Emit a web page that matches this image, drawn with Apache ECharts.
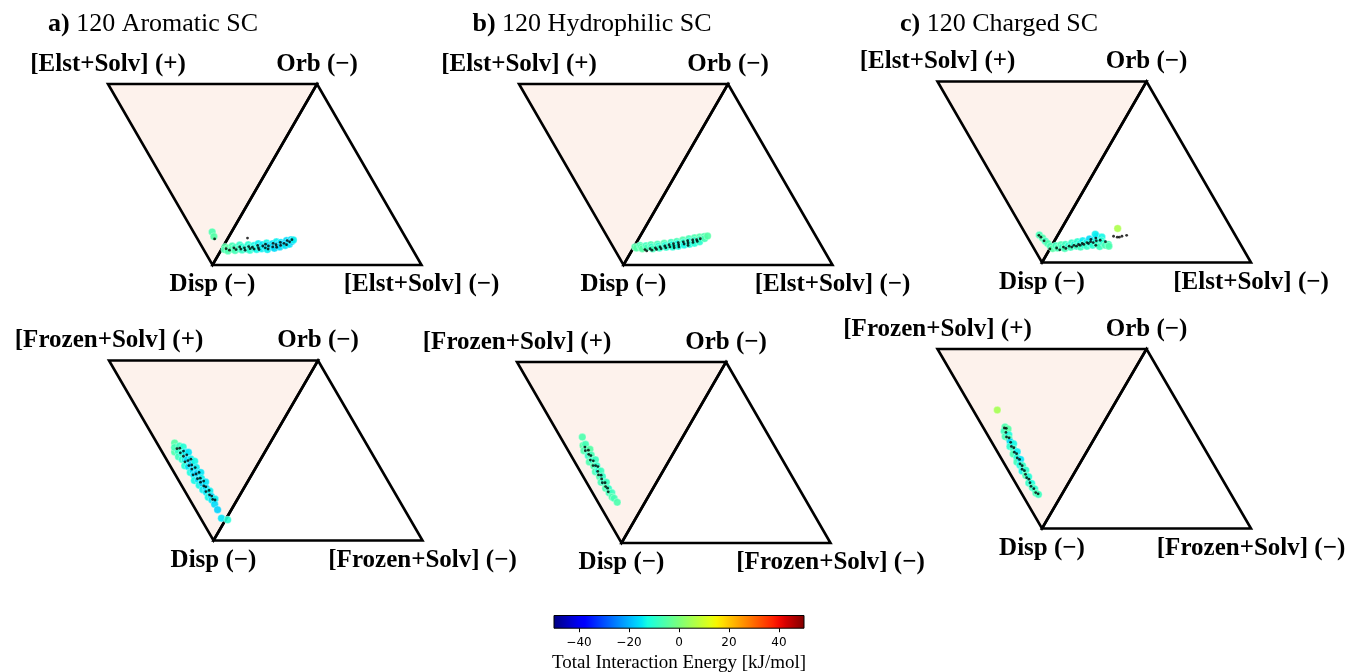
<!DOCTYPE html>
<html>
<head>
<meta charset="utf-8">
<script src="https://cdn.jsdelivr.net/npm/echarts@6/dist/echarts.min.js"></script>
<style>
  html, body { margin: 0; padding: 0; background: #ffffff; }
  #chart { width: 1349px; height: 672px; }
</style>
</head>
<body>
<div id="chart"></div>
<script>
// ---- labels ----
const panelTitles = [
  ['a)', ' 120 Aromatic SC'],
  ['b)', ' 120 Hydrophilic SC'],
  ['c)', ' 120 Charged SC']
];
// corner order: (+) top-left, Orb top-right, Disp bottom, (-) bottom-right
const elstCorners = ['[Elst+Solv] (+)', 'Orb (\u2212)', 'Disp (\u2212)', '[Elst+Solv] (\u2212)'];
const frozenCorners = ['[Frozen+Solv] (+)', 'Orb (\u2212)', 'Disp (\u2212)', '[Frozen+Solv] (\u2212)'];
const energyTicks = [-40, -20, 0, 20, 40];
const energyRange = [-50, 50];
const energyTitle = 'Total Interaction Energy [kJ/mol]';

// ---- data: [orb fraction, signed third-term fraction (+ repulsive / - attractive), total energy kJ/mol] ----
const aromaticElst = [
  [0.09,0.093,-6],[0.085,0.072,-5],
  [0.1,-0.01,-5],[0.085,-0.015,-6],[0.092,-0.028,-4],[0.078,-0.035,-6],[0.105,-0.042,-7],[0.088,-0.05,-6],
  [0.097,-0.06,-8],[0.08,-0.068,-7],[0.11,-0.075,-9],[0.09,-0.082,-8],[0.1,-0.092,-10],[0.083,-0.1,-9],
  [0.095,-0.108,-11],[0.112,-0.115,-10],[0.088,-0.122,-12],[0.1,-0.13,-11],[0.082,-0.138,-10],[0.108,-0.145,-13],
  [0.093,-0.152,-12],[0.118,-0.16,-14],[0.086,-0.168,-13],[0.1,-0.175,-12],[0.112,-0.182,-15],[0.09,-0.19,-14],
  [0.122,-0.198,-13],[0.098,-0.205,-15],[0.108,-0.212,-16],[0.085,-0.22,-14],[0.118,-0.228,-15],[0.1,-0.235,-16],
  [0.128,-0.242,-14],[0.092,-0.25,-16],[0.112,-0.257,-17],[0.125,-0.265,-15],[0.1,-0.272,-16],[0.118,-0.28,-17],
  [0.135,-0.287,-16],[0.108,-0.294,-15],[0.125,-0.3,-17],[0.14,-0.306,-16],[0.115,-0.31,-15],[0.13,-0.314,-17],
  [0.138,-0.318,-14]
];
const aromaticElstDots = [
  [0.082,0.062],[0.149,-0.093],
  [0.09,-0.02],[0.082,-0.04],[0.095,-0.055],[0.085,-0.07],[0.1,-0.08],[0.088,-0.092],[0.095,-0.105],
  [0.082,-0.115],[0.102,-0.122],[0.09,-0.135],[0.098,-0.142],[0.088,-0.155],[0.108,-0.162],[0.095,-0.172],
  [0.085,-0.18],[0.105,-0.188],[0.115,-0.196],[0.095,-0.205],[0.105,-0.215],[0.088,-0.222],[0.12,-0.23],
  [0.1,-0.238],[0.112,-0.248],[0.098,-0.258],[0.125,-0.262],[0.108,-0.272],[0.12,-0.282],[0.135,-0.29],
  [0.112,-0.298],[0.128,-0.305],[0.14,-0.31]
];
const hydrophilicElst = [
  [0.1,-0.005,-6],[0.094,-0.015,-5],[0.108,-0.025,-7],[0.098,-0.035,-6],[0.09,-0.045,-5],[0.106,-0.055,-8],
  [0.096,-0.065,-7],[0.112,-0.075,-6],[0.1,-0.085,-9],[0.09,-0.095,-8],[0.115,-0.105,-7],[0.104,-0.115,-10],
  [0.094,-0.125,-9],[0.12,-0.135,-6],[0.108,-0.145,-11],[0.098,-0.155,-10],[0.125,-0.165,-8],[0.112,-0.175,-12],
  [0.1,-0.185,-11],[0.13,-0.19,-7],[0.118,-0.2,-13],[0.104,-0.21,-12],[0.138,-0.215,-6],[0.124,-0.225,-10],
  [0.11,-0.235,-13],[0.145,-0.24,-7],[0.13,-0.25,-11],[0.115,-0.258,-12],[0.15,-0.265,-6],[0.136,-0.272,-9],
  [0.12,-0.28,-11],[0.155,-0.287,-5],[0.142,-0.295,-8],[0.128,-0.3,-10],[0.158,-0.308,-6],[0.146,-0.315,-7],
  [0.16,-0.322,-5]
];
const hydrophilicElstDots = [
  [0.085,-0.06],[0.078,-0.072],[0.09,-0.082],[0.082,-0.095],[0.095,-0.105],[0.086,-0.115],[0.1,-0.125],
  [0.09,-0.135],[0.105,-0.145],[0.095,-0.155],[0.112,-0.162],[0.1,-0.172],[0.118,-0.18],[0.106,-0.188],
  [0.095,-0.195],[0.124,-0.2],[0.112,-0.208],[0.1,-0.215],[0.128,-0.222],[0.116,-0.232],[0.134,-0.24],
  [0.122,-0.248],[0.108,-0.255],[0.138,-0.262],[0.125,-0.27],[0.14,-0.28],[0.13,-0.288],[0.145,-0.295]
];
const chargedElst = [
  [0.063,0.089,-7],[0.07,0.065,-6],[0.075,0.043,-8],[0.08,0.025,-6],
  [0.085,0.005,-7],[0.078,-0.012,-5],[0.092,-0.02,-8],[0.08,-0.035,-7],[0.098,-0.042,-6],[0.085,-0.055,-9],
  [0.1,-0.062,-8],[0.078,-0.07,-7],[0.092,-0.08,-10],[0.108,-0.088,-9],[0.084,-0.095,-8],[0.1,-0.105,-11],
  [0.115,-0.112,-10],[0.09,-0.12,-9],[0.105,-0.13,-12],[0.12,-0.135,-14],[0.085,-0.142,-8],[0.098,-0.15,-11],
  [0.112,-0.158,-13],[0.13,-0.162,-16],[0.09,-0.17,-9],[0.105,-0.178,-12],[0.125,-0.185,-15],[0.145,-0.19,-17],
  [0.095,-0.195,-10],[0.115,-0.2,-12],[0.156,-0.177,-14],[0.141,-0.216,-13],[0.1,-0.215,-9],[0.12,-0.225,-11],
  [0.088,-0.232,-8],[0.108,-0.24,-10],[0.095,-0.255,-7],[0.1,-0.268,-8],[0.09,-0.275,-6],[0.188,-0.268,6]
];
const chargedElstDots = [
  [0.06,0.09],[0.065,0.075],[0.07,0.05],
  [0.075,0.0],[0.08,-0.03],[0.07,-0.05],[0.085,-0.06],[0.078,-0.075],[0.09,-0.085],[0.085,-0.1],
  [0.095,-0.105],[0.09,-0.12],[0.1,-0.125],[0.095,-0.135],[0.105,-0.14],[0.1,-0.15],[0.11,-0.16],
  [0.105,-0.17],[0.115,-0.175],[0.11,-0.19],[0.12,-0.2],[0.128,-0.17],[0.135,-0.19],[0.095,-0.21],
  [0.123,-0.217],[0.115,-0.246],
  [0.145,-0.27],[0.14,-0.29],[0.145,-0.31],[0.15,-0.33],[0.14,-0.3]
];
const aromaticFrozen = [
  [0.085,0.457,-5],[0.06,0.432,-6],[0.072,0.445,-7],[0.1,0.425,-8],[0.078,0.415,-9],[0.115,0.405,-11],
  [0.065,0.4,-8],[0.092,0.392,-12],[0.11,0.38,-14],[0.075,0.375,-10],[0.125,0.365,-15],[0.088,0.36,-13],
  [0.1,0.35,-16],[0.07,0.345,-11],[0.118,0.335,-14],[0.085,0.325,-15],[0.105,0.318,-17],[0.13,0.31,-13],
  [0.078,0.3,-12],[0.095,0.292,-16],[0.12,0.285,-14],[0.088,0.275,-15],[0.108,0.265,-17],[0.075,0.258,-13],
  [0.128,0.25,-15],[0.095,0.24,-16],[0.115,0.23,-14],[0.085,0.222,-13],[0.105,0.212,-17],[0.125,0.2,-15],
  [0.09,0.192,-14],[0.11,0.18,-16],[0.1,0.168,-15],[0.12,0.155,-14],[0.095,0.145,-13],[0.112,0.132,-16],
  [0.105,0.12,-15],[0.122,0.108,-14],[0.106,0.095,-16],[0.105,0.066,-17],[0.1,0.024,-15],[0.115,-0.01,-11]
];
const aromaticFrozenDots = [
  [0.08,0.43],[0.095,0.418],[0.085,0.402],[0.105,0.392],[0.09,0.378],[0.11,0.366],[0.082,0.355],
  [0.1,0.344],[0.118,0.334],[0.09,0.326],[0.106,0.314],[0.095,0.302],[0.115,0.29],[0.085,0.28],
  [0.102,0.268],[0.12,0.258],[0.095,0.248],[0.11,0.236],[0.1,0.224],[0.118,0.212],[0.105,0.198],
  [0.112,0.186],[0.1,0.172],[0.118,0.16],[0.108,0.146],[0.115,0.132],[0.11,0.118],[0.12,0.105]
];
const hydrophilicFrozen = [
  [0.105,0.48,-6],[0.085,0.453,-5],[0.1,0.445,-7],[0.075,0.435,-6],[0.092,0.42,-8],[0.108,0.41,-5],
  [0.082,0.4,-9],[0.098,0.388,-7],[0.07,0.378,-6],[0.09,0.365,-10],[0.105,0.355,-8],[0.08,0.345,-6],
  [0.095,0.332,-9],[0.072,0.322,-7],[0.088,0.31,-11],[0.1,0.298,-8],[0.078,0.288,-6],[0.092,0.275,-9],
  [0.07,0.265,-7],[0.085,0.252,-10],[0.095,0.24,-8],[0.075,0.227,-6],[0.088,0.212,-9],[0.08,0.198,-7],
  [0.092,0.185,-8],[0.082,0.172,-6],[0.088,0.159,-7],[0.092,0.133,-6]
];
const hydrophilicFrozenDots = [
  [0.09,0.44],[0.082,0.428],[0.098,0.415],[0.088,0.402],[0.095,0.388],[0.08,0.378],[0.092,0.362],
  [0.078,0.35],[0.09,0.338],[0.098,0.324],[0.084,0.312],[0.078,0.298],[0.09,0.285],[0.082,0.272],
  [0.075,0.258],[0.088,0.245],[0.08,0.232],[0.085,0.218],[0.078,0.205]
];
const chargedFrozen = [
  [0.116,0.544,5],[0.106,0.46,-6],[0.09,0.452,-8],[0.115,0.44,-5],[0.08,0.432,-7],[0.102,0.42,-12],
  [0.092,0.408,-6],[0.089,0.394,-16],[0.075,0.382,-10],[0.1,0.372,-13],[0.085,0.358,-9],[0.07,0.345,-7],
  [0.095,0.332,-14],[0.078,0.318,-11],[0.065,0.305,-8],[0.09,0.295,-15],[0.071,0.282,-12],[0.082,0.268,-9],
  [0.065,0.255,-13],[0.085,0.24,-10],[0.07,0.225,-7],[0.08,0.208,-11],[0.064,0.19,-9],[0.076,0.175,-12],
  [0.068,0.16,-8],[0.075,0.145,-10],[0.07,0.128,-7],[0.078,0.112,-8]
];
const chargedFrozenDots = [
  [0.1,0.46],[0.108,0.45],[0.095,0.44],[0.085,0.425],[0.095,0.41],[0.09,0.39],[0.082,0.375],[0.09,0.36],
  [0.08,0.345],[0.087,0.33],[0.078,0.315],[0.085,0.3],[0.075,0.285],[0.08,0.27],[0.07,0.26],[0.077,0.245],
  [0.072,0.23],[0.068,0.215],[0.075,0.2],[0.07,0.185],[0.065,0.17],[0.072,0.15],[0.07,0.13],[0.078,0.115]
];

// ---- layout ----
const SERIF = '"Liberation Serif", "Times New Roman", serif';
const SANS = '"DejaVu Sans", sans-serif';
const H = Math.sqrt(3) / 2;
const SIDE = 209;          // triangle side in px
const titleLefts = [48, 472.5, 900];
const panels = [
  { left: 108,   top: 84,    height: 181,   pts: aromaticElst,      dots: aromaticElstDots,      corners: elstCorners },
  { left: 519,   top: 84,    height: 181,   pts: hydrophilicElst,   dots: hydrophilicElstDots,   corners: elstCorners },
  { left: 937.5, top: 81.5,  height: 181,   pts: chargedElst,       dots: chargedElstDots,       corners: elstCorners },
  { left: 109,   top: 360.5, height: 180,   pts: aromaticFrozen,    dots: aromaticFrozenDots,    corners: frozenCorners },
  { left: 517,   top: 362,   height: 181,   pts: hydrophilicFrozen, dots: hydrophilicFrozenDots, corners: frozenCorners },
  { left: 937.5, top: 349,   height: 179.5, pts: chargedFrozen,     dots: chargedFrozenDots,     corners: frozenCorners }
];

// Disp at origin, Orb at (0.5, H), (+) term at (-0.5, H), (-) term at (1, 0)
function toXY(orb, term) {
  if (term >= 0) return [0.5 * orb - 0.5 * term, H * (orb + term)];
  return [0.5 * orb - term, H * orb];
}
const V_PLUS = toXY(0, 1), V_ORB = toXY(1, 0), V_DISP = toXY(0, 0), V_MINUS = toXY(0, -1);

// matplotlib "jet"
function lerpSeg(t, segs) {
  for (let i = 1; i < segs.length; i++) {
    if (t <= segs[i][0]) {
      const a = segs[i - 1], b = segs[i];
      return a[1] + (b[1] - a[1]) * (t - a[0]) / (b[0] - a[0]);
    }
  }
  return segs[segs.length - 1][1];
}
function jet(t) {
  const r = lerpSeg(t, [[0,0],[0.35,0],[0.66,1],[0.89,1],[1,0.5]]);
  const g = lerpSeg(t, [[0,0],[0.125,0],[0.375,1],[0.64,1],[0.91,0],[1,0]]);
  const b = lerpSeg(t, [[0,0.5],[0.11,1],[0.34,1],[0.65,0],[1,0]]);
  return 'rgb(' + Math.round(r * 255) + ',' + Math.round(g * 255) + ',' + Math.round(b * 255) + ')';
}
const jetColors = [];
for (let i = 0; i <= 40; i++) jetColors.push(jet(i / 40));

const grids = [], xAxes = [], yAxes = [], series = [], colouredIdx = [];

panels.forEach((p, i) => {
  grids.push({ left: p.left, top: p.top, width: SIDE * 1.5, height: p.height, outerBoundsMode: 'none' });
  xAxes.push({ gridIndex: i, type: 'value', min: -0.5, max: 1, show: false });
  yAxes.push({ gridIndex: i, type: 'value', min: 0, max: H, show: false });

  // frame: shaded (+) triangle and outlined (-) triangle
  series.push({
    type: 'custom', xAxisIndex: i, yAxisIndex: i, silent: true, z: 1,
    data: [[0, 0]],
    renderItem: function (params, api) {
      const a = api.coord(V_PLUS), o = api.coord(V_ORB), d = api.coord(V_DISP), m = api.coord(V_MINUS);
      const line = { stroke: '#000', lineWidth: 2.6, fill: null, lineJoin: 'miter' };
      return {
        type: 'group',
        children: [
          { type: 'polygon', shape: { points: [a, o, d] }, style: { fill: '#fdf2ec', stroke: null } },
          { type: 'polygon', shape: { points: [a, o, d] }, style: line },
          { type: 'polygon', shape: { points: [o, m, d] }, style: line }
        ]
      };
    }
  });

  colouredIdx.push(series.length);
  series.push({
    type: 'scatter', xAxisIndex: i, yAxisIndex: i, silent: true, z: 3,
    symbolSize: 7.5,
    itemStyle: { opacity: 0.9, borderColor: 'rgba(255,255,255,0.6)', borderWidth: 0.6 },
    data: p.pts.map(q => toXY(q[0], q[1]).concat([q[2]]))
  });

  series.push({
    type: 'scatter', xAxisIndex: i, yAxisIndex: i, silent: true, z: 4,
    symbolSize: 2.8,
    itemStyle: { color: '#000' },
    data: p.dots.map(q => toXY(q[0], q[1]))
  });

  const lab = (pos, dist) => ({
    show: true, position: pos, distance: dist, formatter: '{b}',
    fontFamily: SERIF, fontWeight: 'bold', fontSize: 25, lineHeight: 25,
    color: '#000000', opacity: 1, textBorderWidth: 0
  });
  series.push({
    type: 'scatter', xAxisIndex: i, yAxisIndex: i, silent: true, z: 5,
    symbol: 'circle', symbolSize: 0,
    data: [
      { name: p.corners[0], value: V_PLUS,  label: lab('top', 7) },
      { name: p.corners[1], value: V_ORB,   label: lab('top', 7) },
      { name: p.corners[2], value: V_DISP,  label: lab('bottom', 7.5) },
      { name: p.corners[3], value: V_MINUS, label: lab('bottom', 7.5) }
    ]
  });
});

// colour bar
const cb = panels.length;
grids.push({ left: 554, top: 615.5, width: 250, height: 12.7, outerBoundsMode: 'none', containLabel: false });
const fmtTick = v => (v < 0 ? '\u2212' + Math.abs(v) : String(v));
xAxes.push({
  gridIndex: cb, type: 'value', min: energyRange[0], max: energyRange[1],
  axisLine: { show: false }, splitLine: { show: false },
  axisTick: { show: true, customValues: energyTicks, length: 4, lineStyle: { color: '#000', width: 1 } },
  axisLabel: { show: true, customValues: energyTicks, formatter: fmtTick, fontFamily: SANS, fontSize: 12, color: '#000', margin: 9 },
  name: energyTitle, nameLocation: 'middle', nameGap: 25,
  nameTextStyle: { fontFamily: SERIF, fontSize: 19, color: '#000' }
});
yAxes.push({ gridIndex: cb, type: 'value', min: 0, max: 1, show: false });
const gradStops = jetColors.map((c, k) => ({ offset: k / (jetColors.length - 1), color: c }));
series.push({
  type: 'custom', xAxisIndex: cb, yAxisIndex: cb, silent: true,
  data: [[0, 0]],
  renderItem: function (params, api) {
    const p0 = api.coord([energyRange[0], 1]), p1 = api.coord([energyRange[1], 0]);
    return {
      type: 'rect',
      shape: { x: p0[0], y: p0[1], width: p1[0] - p0[0], height: p1[1] - p0[1] },
      style: { fill: new echarts.graphic.LinearGradient(0, 0, 1, 0, gradStops), stroke: '#000', lineWidth: 1 }
    };
  }
});

const option = {
  backgroundColor: '#ffffff',
  animation: false,
  title: panelTitles.map((t, i) => ({
    text: '{b|' + t[0] + '}{r|' + t[1] + '}',
    left: titleLefts[i], top: 11, padding: 0,
    textStyle: {
      rich: {
        b: { fontFamily: SERIF, fontWeight: 'bold', fontSize: 26, lineHeight: 26, color: '#000' },
        r: { fontFamily: SERIF, fontWeight: 'normal', fontSize: 26, lineHeight: 26, color: '#000' }
      }
    }
  })),
  grid: grids,
  xAxis: xAxes,
  yAxis: yAxes,
  visualMap: {
    type: 'continuous', show: false, min: energyRange[0], max: energyRange[1],
    dimension: 2, seriesIndex: colouredIdx,
    inRange: { color: jetColors }
  },
  series: series
};

const chart = echarts.init(document.getElementById('chart'), null, { renderer: 'canvas' });
chart.setOption(option);
</script>
</body>
</html>
